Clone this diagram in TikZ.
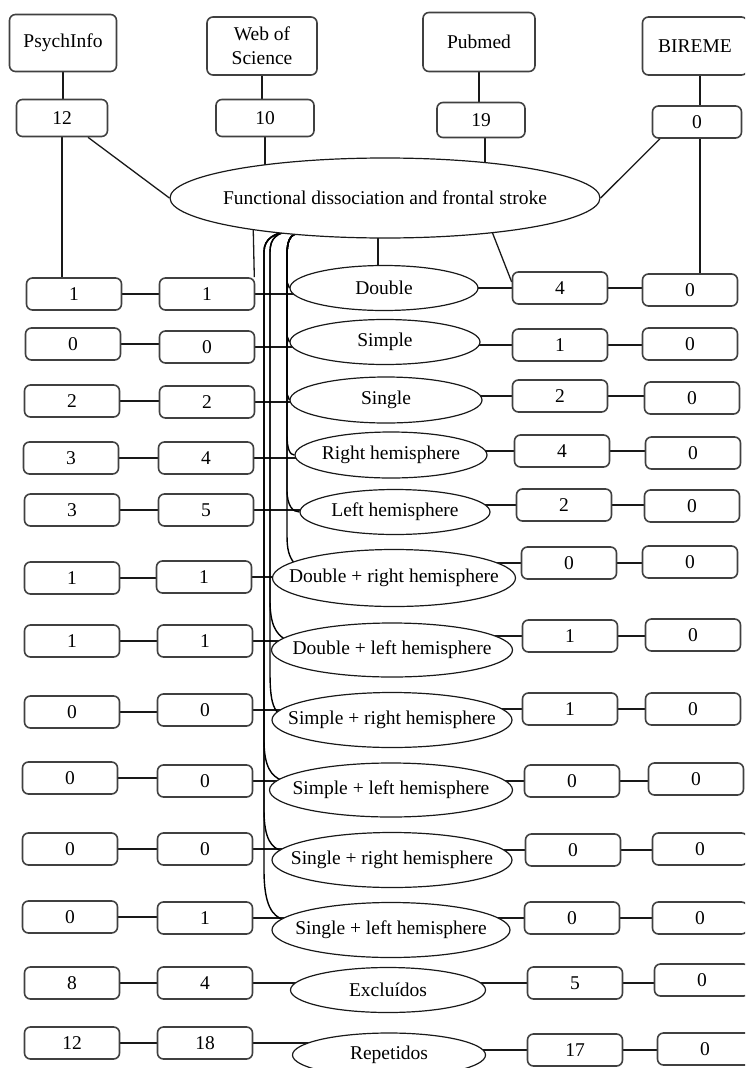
\documentclass[tikz,border=0pt]{standalone}
\usepackage{fontspec}
\setmainfont{Liberation Serif}
\usetikzlibrary{shapes.geometric,backgrounds,calc}
\begin{document}
\begin{tikzpicture}[x=1pt,y=-1pt,
  every node/.style={font=\fontsize{19.5}{24}\selectfont},
  box/.style={draw=black!75, line width=1.6pt, rounded corners=6pt, fill=white,
    minimum width=95pt, minimum height=32pt, inner sep=0pt},
  oval/.style={ellipse, draw=black!90, line width=1.2pt, fill=white, inner sep=0pt},
  conn/.style={draw=black!90, line width=1.3pt},
  bundle/.style={draw=black, line width=1.4pt},
]
\useasboundingbox (0,0) rectangle (745,1068);
\clip (0,0) rectangle (745,1068);

% top sources
\node[box, minimum width=107pt, minimum height=57pt] (psy) at (63,43) {PsychInfo};
\node[box, minimum width=110pt, minimum height=58pt, align=center] (wos) at (262,46) {Web of\\Science};
\node[box, minimum width=112pt, minimum height=59pt] (pub) at (479,42) {Pubmed};
\node[box, minimum width=105pt, minimum height=58pt] (bir) at (695,46) {BIREME};

\node[box, minimum width=91pt, minimum height=37pt] (n12) at (62,118) {12};
\node[box, minimum width=98pt, minimum height=37pt] (n10) at (265,118) {10};
\node[box, minimum width=88pt, minimum height=35pt] (n19) at (481,120) {19};
\node[box, minimum width=89pt, minimum height=32pt] (n0) at (697,122) {0};

\node[oval, minimum width=430pt, minimum height=80pt] (main) at (385,198)
  {\makebox[0pt]{Functional dissociation and frontal stroke}};

% rows
\node[box] (c11) at (74,294) {1};
\node[box] (c21) at (207,294) {1};
\node[oval, minimum width=188pt, minimum height=45pt] (e1) at (384,288) {\makebox[0pt]{Double}};
\node[box] (c31) at (560,288) {4};
\node[box] (c41) at (690,290) {0};

\node[box] (c12) at (73,344) {0};
\node[box] (c22) at (207,347) {0};
\node[oval, minimum width=190pt, minimum height=45pt] (e2) at (385,342) {\makebox[0pt]{Simple}};
\node[box] (c32) at (560,345) {1};
\node[box] (c42) at (690,344) {0};

\node[box] (c13) at (72,401) {2};
\node[box] (c23) at (207,402) {2};
\node[oval, minimum width=192pt, minimum height=46pt] (e3) at (386,400) {\makebox[0pt]{Single}};
\node[box] (c33) at (560,396) {2};
\node[box] (c43) at (692,398) {0};

\node[box] (c14) at (71,458) {3};
\node[box] (c24) at (206,458) {4};
\node[oval, minimum width=192pt, minimum height=46pt] (e4) at (391,455) {\makebox[0pt]{Right hemisphere}};
\node[box] (c34) at (562,451) {4};
\node[box] (c44) at (693,453) {0};

\node[box] (c15) at (72,510) {3};
\node[box] (c25) at (206,510) {5};
\node[oval, minimum width=190pt, minimum height=45pt] (e5) at (395,512) {\makebox[0pt]{Left hemisphere}};
\node[box] (c35) at (564,505) {2};
\node[box] (c45) at (692,506) {0};

\node[box] (c16) at (72,578) {1};
\node[box] (c26) at (204,577) {1};
\node[oval, minimum width=243pt, minimum height=57pt] (e6) at (394,578) {\makebox[0pt]{Double + right hemisphere}};
\node[box] (c36) at (569,563) {0};
\node[box] (c46) at (690,562) {0};

\node[box] (c17) at (72,641) {1};
\node[box] (c27) at (205,641) {1};
\node[oval, minimum width=241pt, minimum height=54pt] (e7) at (392,650) {\makebox[0pt]{Double + left hemisphere}};
\node[box] (c37) at (570,636) {1};
\node[box] (c47) at (693,635) {0};

\node[box] (c18) at (72,712) {0};
\node[box] (c28) at (205,710) {0};
\node[oval, minimum width=240pt, minimum height=55pt] (e8) at (392,720) {\makebox[0pt]{Simple + right hemisphere}};
\node[box] (c38) at (570,709) {1};
\node[box] (c48) at (693,709) {0};

\node[box] (c19) at (70,778) {0};
\node[box] (c29) at (205,781) {0};
\node[oval, minimum width=243pt, minimum height=54pt] (e9) at (391,790) {\makebox[0pt]{Simple + left hemisphere}};
\node[box] (c39) at (572,781) {0};
\node[box] (c49) at (696,779) {0};

\node[box] (c110) at (70,849) {0};
\node[box] (c210) at (205,849) {0};
\node[oval, minimum width=240pt, minimum height=55pt] (e10) at (392,860) {\makebox[0pt]{Single + right hemisphere}};
\node[box] (c310) at (573,850) {0};
\node[box] (c410) at (700,849) {0};

\node[box] (c111) at (70,917) {0};
\node[box] (c211) at (205,918) {1};
\node[oval, minimum width=238pt, minimum height=55pt] (e11) at (391,930) {\makebox[0pt]{Single + left hemisphere}};
\node[box] (c311) at (572,918) {0};
\node[box] (c411) at (700,918) {0};

\node[box] (c112) at (72,983) {8};
\node[box] (c212) at (205,983) {4};
\node[oval, minimum width=195pt, minimum height=45pt] (e12) at (388,990) {\makebox[0pt]{Excluídos}};
\node[box] (c312) at (575,983) {5};
\node[box] (c412) at (702,980) {0};

\node[box] (c113) at (72,1043) {12};
\node[box] (c213) at (205,1043) {18};
\node[oval, minimum width=193pt, minimum height=44pt] (e13) at (389,1055) {\makebox[0pt]{Repetidos}};
\node[box] (c313) at (575,1050) {17};
\node[box] (c413) at (705,1049) {0};

\coordinate (SA) at ($(main.center)+(-85,35)$);
\coordinate (SB) at ($(main.center)+(-95,33)$);

\begin{scope}[on background layer]
  % top connections
  \draw[conn] (psy) -- (psy |- n12);
  \draw[conn] (wos) -- (wos |- n10);
  \draw[conn] (pub) -- (pub |- n19);
  \draw[conn] ([xshift=5pt]bir.center) -- ([xshift=5pt]bir.center |- n0.center);
  \draw[conn] (n10) -- (n10 |- main);
  \draw[conn] ([xshift=4pt]n19.center) -- ([xshift=4pt]n19.center |- main.center);
  \draw[conn] (n12) -- (n12 |- c11);
  \draw[conn] ([xshift=3pt]n0.center) -- ([xshift=3pt]n0.center |- c41.center);
  \draw[conn] ([xshift=26pt]n12.south) -- (main.west);
  \draw[conn] ([xshift=-37pt]n0.south) -- (main.east);
  \draw[conn] ($(main.center)+(-132,20)$) -- ($(c21.north east)+(-1,0)$);
  \draw[conn] ($(main.center)+(104,26)$) -- ($(c31.west)+(0,-6)$);
  \draw[conn] ($(main.center)+(-7,0)$) -- ($(e1.center)+(-6,0)$);

  % row connections
  \foreach \k in {1,...,13}{
    \draw[conn] (c1\k) -- (c1\k -| c2\k);
    \draw[conn] (c2\k) -- (c2\k -| e\k);
    \draw[conn] (c3\k) -- (c3\k -| e\k);
    \draw[conn] (c3\k) -- (c3\k -| c4\k);
  }

  % bundle A
  \draw[bundle] (SA) .. controls (290,234) and (287,240) .. (287,256) -- (287,282) -- (e1.west);
  \draw[bundle] (SA) .. controls (290,234) and (287,240) .. (287,256) -- (287,336) -- (e2.west);
  \draw[bundle] (SA) .. controls (290,234) and (287,240) .. (287,256) -- (287,394) -- (e3.west);
  \draw[bundle] (SA) .. controls (290,234) and (287,240) .. (287,256) -- (287,435) .. controls (287,449) and (290,455) .. (e4.west);
  \draw[bundle] (SA) .. controls (290,234) and (287,240) .. (287,256) -- (287,490) .. controls (287,506) and (293,512) .. (e5.west);
  \draw[bundle] (SA) .. controls (290,234) and (287,240) .. (287,256) -- (287,535) .. controls (287,550) and (289,556) .. ($(e6.center)+(-100,-15)$);

  % bundle B
  \draw[bundle] (SB) .. controls (277,233) and (270,238) .. (270,252) -- (270,600) .. controls (270,625) and (276,634) .. ($(e7.center)+(-106,-10)$);
  \draw[bundle] (SB) .. controls (277,233) and (270,238) .. (270,252) -- (270,672) .. controls (270,700) and (273,708) .. ($(e8.center)+(-113,-6)$);
  \draw[bundle] (SB) .. controls (275,233) and (264,238) .. (264,252) -- (264,740) .. controls (264,768) and (272,776) .. ($(e9.center)+(-110,-10)$);
  \draw[bundle] (SB) .. controls (275,233) and (264,238) .. (264,252) -- (264,810) .. controls (264,840) and (272,848) .. ($(e10.center)+(-110,-9)$);
  \draw[bundle] (SB) .. controls (275,233) and (264,238) .. (264,252) -- (264,870) .. controls (264,905) and (272,916) .. ($(e11.center)+(-107,-10)$);
\end{scope}
\end{tikzpicture}
\end{document}
